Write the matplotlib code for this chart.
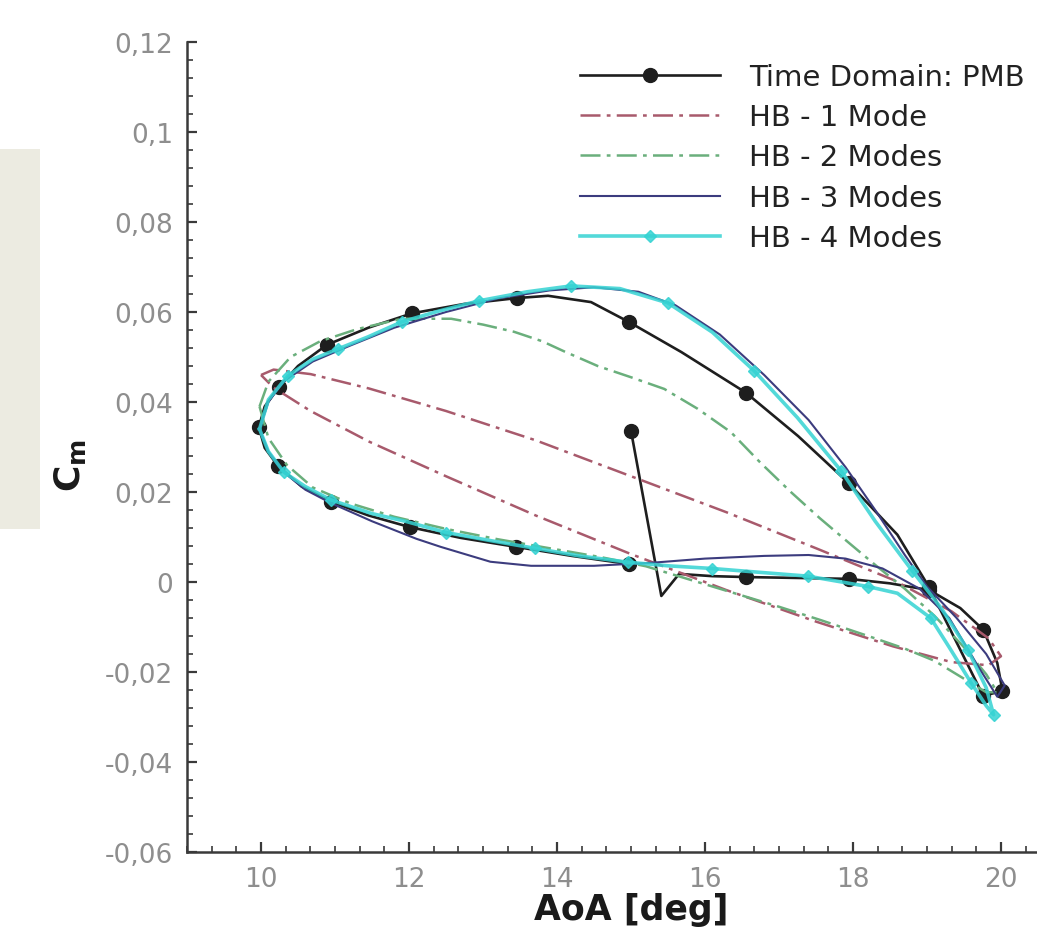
import matplotlib
matplotlib.use("Agg")
import matplotlib.pyplot as plt
from matplotlib.patches import Rectangle
from matplotlib.ticker import MultipleLocator, FuncFormatter

# Time domain (PMB)
td_aoa = [15.0, 15.41, 15.65, 16.1, 16.55, 17.25, 17.94, 18.5, 19.03, 19.45,
          19.76, 19.95, 20.02, 19.76, 19.03, 18.6, 17.94, 17.26, 16.55, 15.68,
          14.97, 14.46, 13.88, 13.46, 12.75, 12.04, 11.45, 10.89, 10.5, 10.24,
          10.05, 9.97, 10.05, 10.23, 10.55, 10.95, 11.45, 12.01, 12.7, 13.45,
          14.2, 14.97]
td_cm = [0.0336, -0.0031, 0.0018, 0.0013, 0.0011, 0.0009, 0.0007, -0.0003, -0.0018, -0.0058,
         -0.0106, -0.0180, -0.0242, -0.0253, -0.0012, 0.0105, 0.0220, 0.0324, 0.0421, 0.0511,
         0.0578, 0.0622, 0.0636, 0.0631, 0.0618, 0.0597, 0.0565, 0.0527, 0.0480, 0.0433,
         0.0390, 0.0344, 0.0298, 0.0258, 0.0212, 0.0178, 0.0148, 0.0122, 0.0098, 0.0078,
         0.0058, 0.0040]
td_marks = [0, 4, 6, 8, 10, 12, 13, 14, 16, 18, 20, 23, 25, 27, 29, 31, 33, 35, 37, 39, 41]

# HB - 1 Mode
hb1_aoa = [10.0, 10.17, 10.67, 11.46, 12.5, 13.71, 15.0, 16.29, 17.5, 18.54, 19.33, 19.83,
           20.0, 19.83, 19.33, 18.54, 17.5, 16.29, 15.0, 13.71, 12.5, 11.46, 10.67, 10.17, 10.0]
hb1_cm = [0.0460, 0.0472, 0.0462, 0.0430, 0.0380, 0.0315, 0.0235, 0.0155, 0.0075, 0.0005,
          -0.0065, -0.0125, -0.0165, -0.0185, -0.0178, -0.0143, -0.0088, -0.0018, 0.0062,
          0.0148, 0.0235, 0.0312, 0.0380, 0.0432, 0.0460]

# HB - 2 Modes
hb2_aoa = [9.98, 10.1, 10.4, 10.8, 11.3, 11.9, 12.57, 13.0, 13.42, 13.8, 14.09, 14.55, 15.0,
           15.45, 15.9, 16.35, 16.75, 17.16, 17.55, 17.93, 18.3, 18.7, 19.1, 19.5, 19.8, 19.95,
           19.8, 19.5, 19.1, 18.7, 18.24, 17.57, 17.0, 16.4, 15.8, 15.2, 14.6, 13.9, 13.2,
           12.5, 11.8, 11.2, 10.7, 10.35, 10.1, 9.98]
hb2_cm = [0.0390, 0.0445, 0.0500, 0.0535, 0.0562, 0.0585, 0.0585, 0.0572, 0.0556, 0.0535,
          0.0513, 0.0480, 0.0455, 0.0429, 0.0385, 0.0333, 0.0265, 0.0200, 0.0142, 0.0089,
          0.0038, -0.0015, -0.0075, -0.0145, -0.0205, -0.0245, -0.0245, -0.0215, -0.0175,
          -0.0148, -0.0122, -0.0085, -0.0055, -0.0025, 0.0005, 0.0035, 0.0055, 0.0075,
          0.0095, 0.0118, 0.0145, 0.0175, 0.0210, 0.0260, 0.0320, 0.0390]

# HB - 3 Modes
hb3_aoa = [9.98, 10.1, 10.3, 10.7, 11.2, 11.8, 12.5, 13.2, 13.9, 14.5, 15.1, 15.6, 16.2,
           16.8, 17.4, 17.9, 18.3, 18.7, 19.0, 19.4, 19.8, 20.05, 19.95, 19.7, 19.3, 18.9,
           18.4, 17.9, 17.4, 16.8, 16.0, 15.3, 14.5, 13.65, 13.1, 12.43, 12.1, 11.5, 10.95,
           10.6, 10.3, 10.1, 9.98]
hb3_cm = [0.0340, 0.0400, 0.0445, 0.0490, 0.0525, 0.0565, 0.0600, 0.0630, 0.0648, 0.0655,
          0.0645, 0.0615, 0.0550, 0.0460, 0.0360, 0.0255, 0.0160, 0.0060, -0.0010, -0.0080,
          -0.0160, -0.0230, -0.0255, -0.0190, -0.0080, -0.0015, 0.0030, 0.0052, 0.0060,
          0.0058, 0.0052, 0.0043, 0.0036, 0.0036, 0.0045, 0.0078, 0.0096, 0.0135, 0.0175,
          0.0205, 0.0245, 0.0290, 0.0340]

# HB - 4 Modes
hb4_aoa = [9.98, 10.1, 10.36, 10.7, 11.04, 11.45, 11.9, 12.4, 12.95, 13.6, 14.19, 14.85,
           15.5, 16.1, 16.66, 17.25, 17.84, 18.3, 18.8, 19.2, 19.55, 19.8, 19.9, 19.8, 19.6,
           19.3, 19.05, 18.6, 18.2, 17.39, 16.7, 16.1, 15.5, 14.96, 14.3, 13.7, 13.1, 12.5,
           11.95, 11.5, 10.95, 10.6, 10.31, 10.1, 9.98]
hb4_cm = [0.0340, 0.0405, 0.0458, 0.0495, 0.0518, 0.0545, 0.0578, 0.0602, 0.0625, 0.0645,
          0.0658, 0.0652, 0.0620, 0.0555, 0.0470, 0.0365, 0.0247, 0.0135, 0.0025, -0.0060,
          -0.0150, -0.0235, -0.0295, -0.0275, -0.0225, -0.0145, -0.0080, -0.0025, -0.0010,
          0.0013, 0.0022, 0.0030, 0.0036, 0.0044, 0.0058, 0.0075, 0.0092, 0.0110, 0.0135,
          0.0152, 0.0182, 0.0212, 0.0244, 0.0290, 0.0340]
hb4_marks = [2, 4, 6, 8, 10, 12, 14, 16, 18, 20, 22, 24, 26, 28, 29, 31, 33, 35, 37, 40, 42]

labels = ["Time Domain: PMB", "HB - 1 Mode", "HB - 2 Modes", "HB - 3 Modes", "HB - 4 Modes"]
x_ticks = [10, 12, 14, 16, 18, 20]


def comma_fmt(v, pos):
    s = f"{v:.2f}".rstrip("0").rstrip(".")
    if s in ("-0", ""):
        s = "0"
    return s.replace(".", ",")


fig = plt.figure(figsize=(10.37, 9.37), dpi=100)
fig.patch.set_facecolor("white")
fig.add_artist(Rectangle((0, 1 - 530 / 937), 40 / 1037, 380 / 937,
                         transform=fig.transFigure, facecolor="#ecebe1",
                         edgecolor="none", zorder=0))

ax = fig.add_axes([187 / 1037, 84 / 937, 888 / 1037, 810 / 937])
ax.set_xlim(9, 21)
ax.set_ylim(-0.06, 0.12)

ax.plot(td_aoa, td_cm, color="#1e1e1e", lw=1.9, marker="o", ms=10,
        markevery=td_marks, label=labels[0], zorder=3)
ax.plot(hb1_aoa, hb1_cm, color="#a85a6c", lw=1.8, ls=(0, (8, 2.5, 1.5, 2.5)),
        label=labels[1], zorder=4)
ax.plot(hb2_aoa, hb2_cm, color="#6aaf7c", lw=1.8, ls=(0, (8, 2.5, 1.5, 2.5)),
        label=labels[2], zorder=4)
ax.plot(hb3_aoa, hb3_cm, color="#3c3c7e", lw=1.5, label=labels[3], zorder=5)
ax.plot(hb4_aoa, hb4_cm, color="#35d3d3", lw=2.6, marker="D", ms=6,
        markevery=hb4_marks, alpha=0.85, label=labels[4], zorder=6)

for side in ("top", "right"):
    ax.spines[side].set_visible(False)
for side in ("left", "bottom"):
    ax.spines[side].set_linewidth(1.8)
    ax.spines[side].set_color("#3a3a3a")

ax.set_xticks(x_ticks)
ax.xaxis.set_minor_locator(MultipleLocator(1 / 3))
ax.yaxis.set_major_locator(MultipleLocator(0.02))
ax.yaxis.set_minor_locator(MultipleLocator(0.004))
ax.yaxis.set_major_formatter(FuncFormatter(comma_fmt))
ax.tick_params(which="major", direction="in", length=7, width=1.6, color="#3a3a3a",
               labelsize=19, labelcolor="#8e8e8e", pad=10)
ax.tick_params(which="minor", direction="in", length=4, width=1.2, color="#3a3a3a")

ax.set_xlabel("AoA [deg]", fontsize=25, fontweight="bold", color="#1a1a1a")
ax.xaxis.set_label_coords(0.5, -0.049)
ax.set_ylabel(r"$\mathbf{C_m}$", fontsize=26, color="#1a1a1a")
ax.yaxis.set_label_coords(-0.112, 0.479)

ax.legend(loc="upper left", bbox_to_anchor=(580 / 1037, 1 - 64 / 937),
          bbox_transform=fig.transFigure, frameon=False, fontsize=21,
          handlelength=4.8, handletextpad=1.0, labelspacing=0.42,
          borderpad=0, borderaxespad=0, labelcolor="#222222")

fig.savefig("out.png", dpi=100)
